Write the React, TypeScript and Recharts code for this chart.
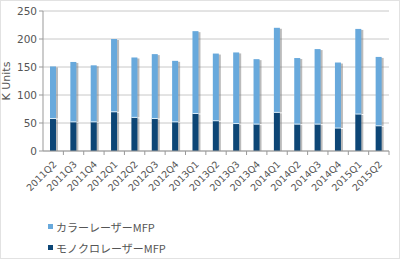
import { BarChart, Bar, XAxis, YAxis, CartesianGrid } from "recharts";

const quarters = [
  "2011Q2", "2011Q3", "2011Q4", "2012Q1", "2012Q2", "2012Q3", "2012Q4",
  "2013Q1", "2013Q2", "2013Q3", "2013Q4", "2014Q1", "2014Q2", "2014Q3",
  "2014Q4", "2015Q1", "2015Q2",
];
const monoMfp = [58, 52, 52, 70, 60, 58, 52, 67, 54, 49, 48, 69, 48, 48, 41, 66, 45];
const colorMfp = [93, 107, 101, 130, 107, 115, 109, 147, 120, 127, 116, 151, 118, 134, 117, 152, 123];
const yTicks = [0, 50, 100, 150, 200, 250];

const COLOR_LIGHT = "#68a9dc";
const COLOR_DARK = "#0d4676";
const TEXT = "#555";
const LABEL_FONT = "'DejaVu Sans', Verdana, sans-serif";
const JP_FONT = "'Noto Sans CJK JP', sans-serif";

const data = quarters.map((q, i) => ({ q, mono: monoMfp[i], color: colorMfp[i] }));

const legendItems = [
  { name: "カラーレーザーMFP", fill: COLOR_LIGHT },
  { name: "モノクロレーザーMFP", fill: COLOR_DARK },
];

function ShadowBar(props: any) {
  const { x, y, width, height, fill, top } = props;
  if (!height || height <= 0) return null;
  return (
    <g>
      <rect x={x + 2} y={y + 1} width={width} height={height - 1} fill="#777" opacity={0.5} />
      <rect x={x} y={y} width={width} height={height} fill={fill} />
      {top && <line x1={x} x2={x + width} y1={y + height} y2={y + height} stroke="#d8ecfa" strokeWidth={1} />}
    </g>
  );
}

function QuarterTick(props: any) {
  const { x, y, payload } = props;
  const half = 10.2;
  return (
    <g>
      <line x1={x + half} x2={x + half} y1={y - 8} y2={y - 4} stroke="#999" />
      <text
        x={x + 4}
        y={y + 6}
        textAnchor="end"
        fontSize={9.5}
        fontFamily={LABEL_FONT}
        fill={TEXT}
        transform={`rotate(-45, ${x + 4}, ${y + 6})`}
      >
        {payload.value}
      </text>
    </g>
  );
}

export default function App() {
  return (
    <div
      style={{
        position: "absolute",
        left: 0,
        top: 0,
        width: 400,
        height: 259,
        boxSizing: "border-box",
        border: "1px solid #e2e2e2",
        background: "#fff",
      }}
    >
      <div style={{ position: "absolute", left: -1, top: -1 }}>
        <BarChart
          width={400}
          height={259}
          data={data}
          margin={{ top: 11, right: 11, left: 0, bottom: 48 }}
          barSize={6}
        >
          <CartesianGrid vertical={false} stroke="#c8c8c8" />
          <XAxis
            dataKey="q"
            interval={0}
            height={60}
            tickLine={false}
            axisLine={{ stroke: "#999" }}
            tick={<QuarterTick />}
          />
          <YAxis
            domain={[0, 250]}
            ticks={yTicks}
            width={43}
            tickSize={4}
            tickLine={{ stroke: "#999" }}
            axisLine={{ stroke: "#999" }}
            tick={{ fontSize: 10.5, fill: TEXT, fontFamily: LABEL_FONT }}
            label={{
              value: "K Units",
              angle: -90,
              position: "insideLeft",
              offset: 6,
              style: { fontSize: 11, fill: TEXT, fontFamily: LABEL_FONT, textAnchor: "middle" },
            }}
          />
          <YAxis
            yAxisId="frame"
            orientation="right"
            width={0}
            tick={false}
            tickLine={false}
            axisLine={{ stroke: "#c8c8c8" }}
          />
          <Bar dataKey="mono" stackId="s" fill={COLOR_DARK} isAnimationActive={false} shape={<ShadowBar />} />
          <Bar dataKey="color" stackId="s" fill={COLOR_LIGHT} isAnimationActive={false} shape={<ShadowBar top />} />
        </BarChart>
      </div>
      <div style={{ position: "absolute", left: 47, top: 215, fontFamily: JP_FONT, fontSize: 11, color: TEXT }}>
        {legendItems.map((it) => (
          <div key={it.name} style={{ display: "flex", alignItems: "center", height: 21 }}>
            <span style={{ width: 5, height: 5, background: it.fill, marginRight: 3 }} />
            {it.name}
          </div>
        ))}
      </div>
    </div>
  );
}
